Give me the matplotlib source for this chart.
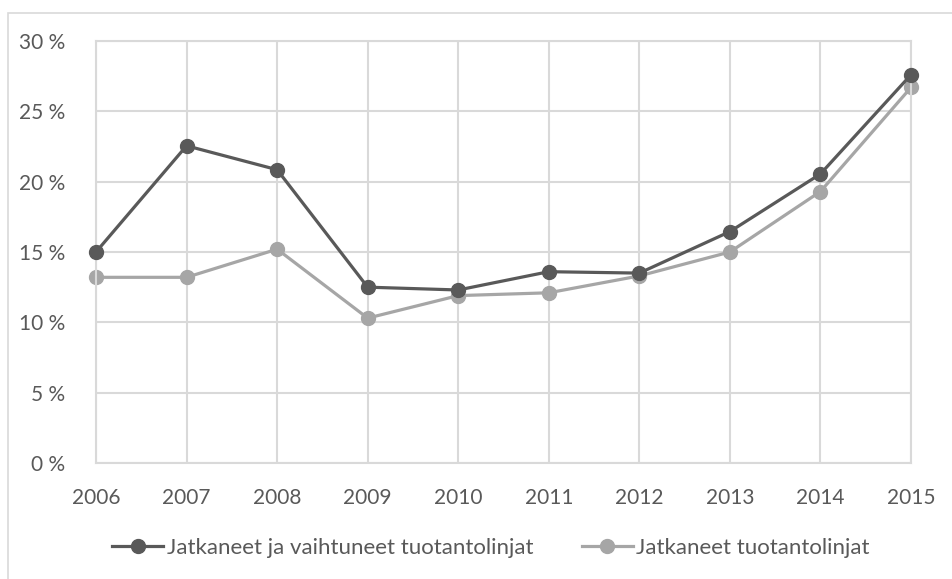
import matplotlib
matplotlib.use("Agg")
import matplotlib.pyplot as plt
from matplotlib.patches import Rectangle
from matplotlib.ticker import FuncFormatter

years = [2006, 2007, 2008, 2009, 2010, 2011, 2012, 2013, 2014, 2015]
jatk_vaiht = [15.0, 22.55, 20.85, 12.5, 12.3, 13.6, 13.5, 16.45, 20.55, 27.6]
jatk = [13.2, 13.2, 15.2, 10.3, 11.9, 12.1, 13.3, 15.0, 19.3, 26.7]
labels = ["Jatkaneet ja vaihtuneet tuotantolinjat", "Jatkaneet tuotantolinjat"]

DARK = "#595959"
LIGHT = "#A6A6A6"
GRID = "#D9D9D9"
TEXT = "#595959"

plt.rcParams["font.family"] = ["Lato", "DejaVu Sans"]

fig = plt.figure(figsize=(9.53, 5.79), dpi=100)
# chart frame (cropped on right/bottom)
fig.patches.append(Rectangle((8 / 953, -0.1), 1.2, 1 - 13 / 579 + 0.1,
                             transform=fig.transFigure, fill=False,
                             edgecolor=GRID, linewidth=1.2))

ax = fig.add_axes([96 / 953, 1 - 463 / 579, (911 - 96) / 953, (463 - 41) / 579])

ax.plot(years, jatk_vaiht, color=DARK, lw=2.3, marker="o", ms=10,
        label=labels[0], zorder=3, clip_on=False)
ax.plot(years, jatk, color=LIGHT, lw=2.3, marker="o", ms=10,
        label=labels[1], zorder=2, clip_on=False)

ax.set_xlim(2006, 2015)
ax.set_ylim(0, 30)
ax.set_xticks(years)
ax.set_yticks(range(0, 31, 5))
ax.yaxis.set_major_formatter(FuncFormatter(lambda v, p: f"{int(v)} %"))
ax.grid(True, color=GRID, lw=1.5)
ax.set_axisbelow(True)
for s in ax.spines.values():
    s.set_color(GRID)
    s.set_linewidth(1.5)
ax.tick_params(length=0, labelsize=15, colors=TEXT)
ax.tick_params(axis="y", pad=22)
ax.tick_params(axis="x", pad=18)

fig.legend(loc="center", bbox_to_anchor=(491 / 953, 1 - 548 / 579), ncol=2,
           frameon=False, fontsize=16, labelcolor=TEXT, handlelength=2.3,
           handletextpad=0.15, columnspacing=2.2)

fig.savefig("out.png", dpi=100)
